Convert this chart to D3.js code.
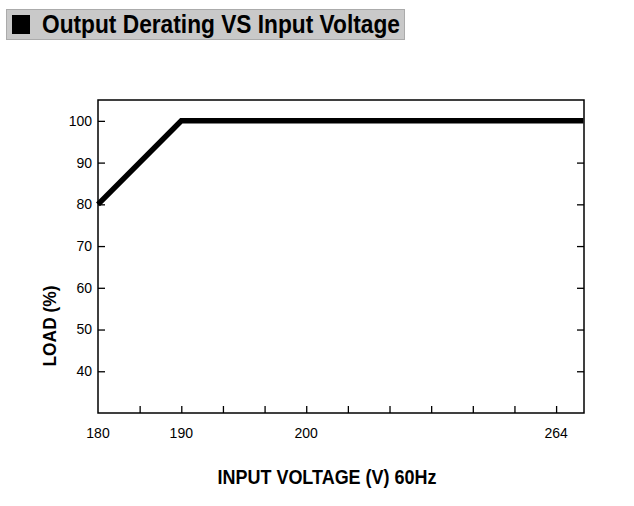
<!DOCTYPE html>
<html>
<head>
<meta charset="utf-8">
<script src="https://cdn.jsdelivr.net/npm/d3@7"></script>
<style>
  body { margin: 0; background: #fff; }
  svg text { font-family: "Liberation Sans Narrow", "Arial Narrow", "Liberation Sans", Arial, sans-serif; }
</style>
</head>
<body>
<svg id="chart" width="634" height="506"></svg>
<script>
// derating curve
var voltage = [180, 190, 271];
var load = [80, 100, 100];

// x axis: equally spaced tick slots, only some are labelled
var tickSlots = [0, 1, 2, 3, 4, 5, 6, 7, 8, 9, 10, 11];
var labelSlots = [0, 2, 5, 11];
var labelVolts = [180, 190, 200, 264];
var slotEnd = 11.67;

var loadTicks = [40, 50, 60, 70, 80, 90, 100];

var margin = {top: 100, right: 50, bottom: 93, left: 98};
var width = 634 - margin.left - margin.right,
    height = 506 - margin.top - margin.bottom;

var svg = d3.select("#chart");

// title bar
var title = svg.append("g");
title.append("rect")
    .attr("x", 6.5).attr("y", 9.5)
    .attr("width", 398).attr("height", 30)
    .style("fill", "#c9c9c9")
    .style("stroke", "#ababab");
title.append("rect")
    .attr("x", 12).attr("y", 15)
    .attr("width", 18).attr("height", 19)
    .style("fill", "#000");
title.append("text")
    .attr("x", 42).attr("y", 33)
    .attr("textLength", 358)
    .attr("lengthAdjust", "spacingAndGlyphs")
    .style("font-size", "25px")
    .style("font-weight", "bold")
    .text("Output Derating VS Input Voltage");

var g = svg.append("g").attr("transform", "translate(" + margin.left + "," + margin.top + ")");

var xs = d3.scaleLinear().domain([0, slotEnd]).range([0, width]);
var x = d3.scaleLinear().domain(labelVolts).range(labelSlots.map(xs));
var y = d3.scaleLinear().domain([30, 105]).range([height, 0]);

// frame
g.append("rect")
    .attr("width", width).attr("height", height)
    .style("fill", "none")
    .style("stroke", "#000")
    .style("stroke-width", 1.5);

// bottom ticks (inward)
g.append("g")
    .attr("class", "axis axis--x")
    .attr("transform", "translate(0," + height + ")")
    .call(d3.axisTop(xs).tickValues(tickSlots.slice(1)).tickSize(7).tickFormat(""))
    .call(function (a) { a.select(".domain").remove(); })
    .selectAll("line").style("stroke-width", 1.3);

// bottom labels
g.selectAll(".xlabel")
    .data(labelVolts)
    .enter().append("text")
    .attr("class", "xlabel")
    .attr("x", function (d) { return x(d); })
    .attr("y", height + 25)
    .attr("text-anchor", "middle")
    .style("font-size", "14px")
    .text(function (d) { return d; });

// left axis (ticks inward, labels outside)
var yl = g.append("g")
    .attr("class", "axis axis--y")
    .call(d3.axisRight(y).tickValues(loadTicks).tickSize(7).tickFormat(""));
yl.select(".domain").remove();
yl.selectAll("line").style("stroke-width", 1.3);

g.selectAll(".ylabel")
    .data(loadTicks)
    .enter().append("text")
    .attr("class", "ylabel")
    .attr("x", -6)
    .attr("y", function (d) { return y(d); })
    .attr("dy", "0.35em")
    .attr("text-anchor", "end")
    .style("font-size", "14px")
    .text(function (d) { return d; });

// right axis ticks (inward)
var yr = g.append("g")
    .attr("transform", "translate(" + width + ",0)")
    .call(d3.axisLeft(y).tickValues(loadTicks.slice(0, -1)).tickSize(7).tickFormat(""));
yr.select(".domain").remove();
yr.selectAll("line").style("stroke-width", 1.3);

// derating line
var pts = voltage.map(function (v, i) { return [v, load[i]]; });
g.append("path")
    .datum(pts)
    .attr("d", d3.line().x(function (d) { return x(d[0]); }).y(function (d) { return y(d[1]); }))
    .style("fill", "none")
    .style("stroke", "#000")
    .style("stroke-width", 5.5)
    .style("stroke-linejoin", "miter");

// axis titles
g.append("text")
    .attr("x", 229)
    .attr("y", height + 71)
    .attr("text-anchor", "middle")
    .attr("textLength", 219)
    .attr("lengthAdjust", "spacingAndGlyphs")
    .style("font-size", "20px")
    .style("font-weight", "bold")
    .text("INPUT VOLTAGE (V) 60Hz");

g.append("text")
    .attr("transform", "rotate(-90)")
    .attr("x", -(326 - margin.top))
    .attr("y", -42)
    .attr("text-anchor", "middle")
    .attr("textLength", 81)
    .attr("lengthAdjust", "spacingAndGlyphs")
    .style("font-size", "18px")
    .style("font-weight", "bold")
    .text("LOAD (%)");
</script>
</body>
</html>
